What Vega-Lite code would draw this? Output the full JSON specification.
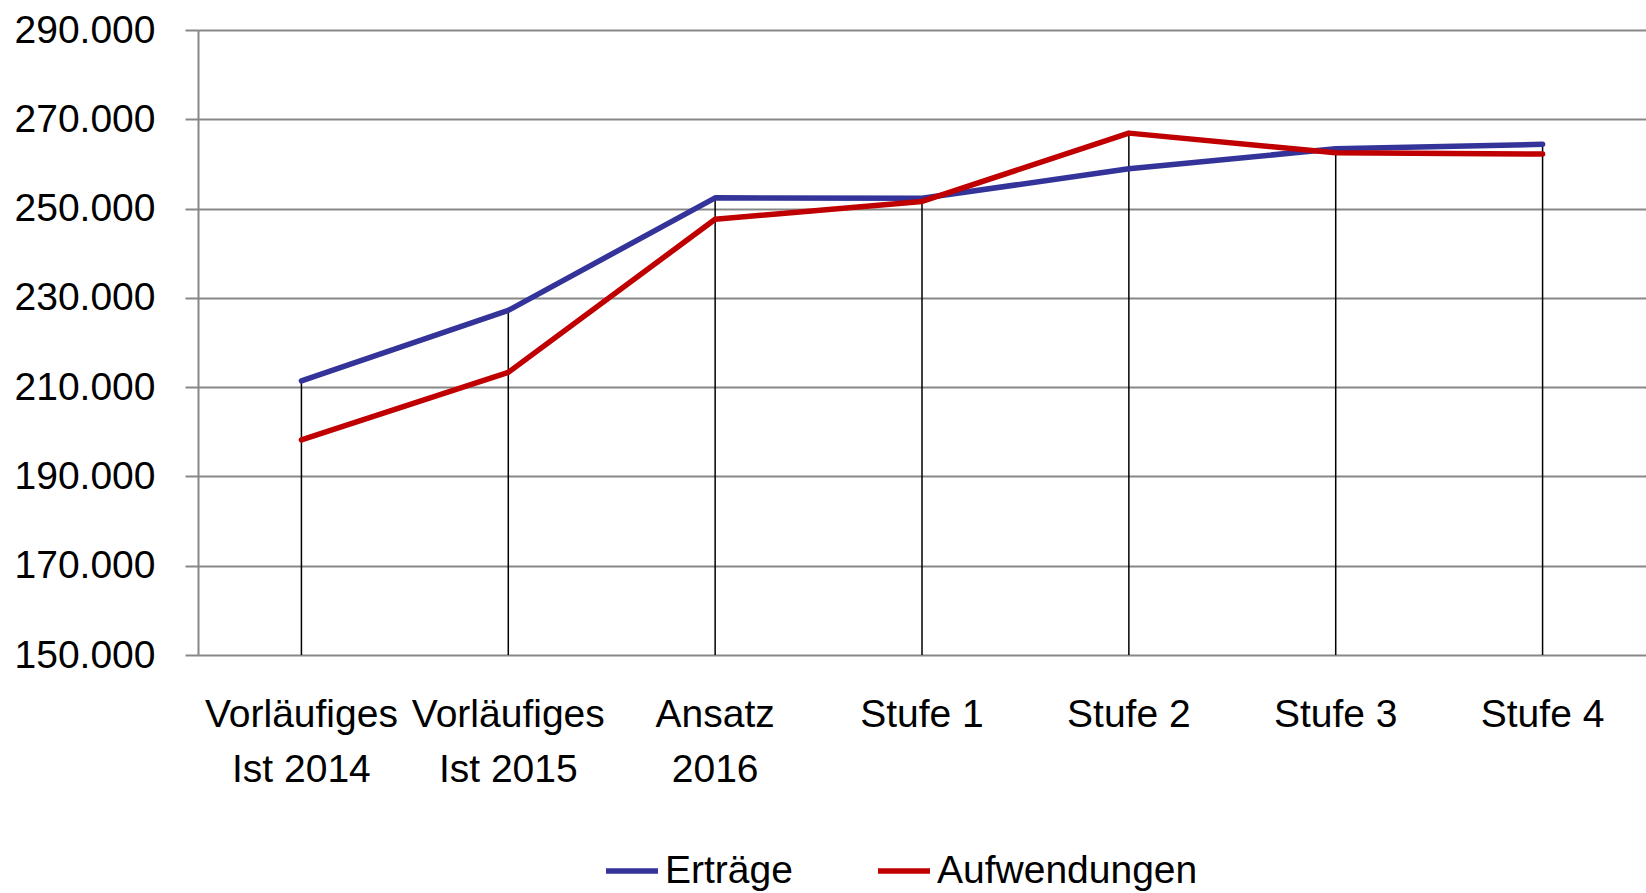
{
  "$schema": "https://vega.github.io/schema/vega-lite/v6.json",
  "autosize": {"type": "none"},
  "padding": {"left": 198, "top": 30, "right": 0, "bottom": 238},
  "width": 1448,
  "height": 625,
  "background": "white",
  "config": {
    "view": {"stroke": null},
    "font": "Liberation Sans",
    "locale": {"number": {"decimal": ",", "thousands": ".", "grouping": [3], "currency": ["", " €"]}}
  },
  "data": {
    "values": [
      {"kategorie": "Vorläufiges Ist 2014", "reihe": "Erträge", "wert": 211400},
      {"kategorie": "Vorläufiges Ist 2015", "reihe": "Erträge", "wert": 227200},
      {"kategorie": "Ansatz 2016", "reihe": "Erträge", "wert": 252400},
      {"kategorie": "Stufe 1", "reihe": "Erträge", "wert": 252300},
      {"kategorie": "Stufe 2", "reihe": "Erträge", "wert": 258900},
      {"kategorie": "Stufe 3", "reihe": "Erträge", "wert": 263400},
      {"kategorie": "Stufe 4", "reihe": "Erträge", "wert": 264400},
      {"kategorie": "Vorläufiges Ist 2014", "reihe": "Aufwendungen", "wert": 198200},
      {"kategorie": "Vorläufiges Ist 2015", "reihe": "Aufwendungen", "wert": 213300},
      {"kategorie": "Ansatz 2016", "reihe": "Aufwendungen", "wert": 247600},
      {"kategorie": "Stufe 1", "reihe": "Aufwendungen", "wert": 251600},
      {"kategorie": "Stufe 2", "reihe": "Aufwendungen", "wert": 266900},
      {"kategorie": "Stufe 3", "reihe": "Aufwendungen", "wert": 262500},
      {"kategorie": "Stufe 4", "reihe": "Aufwendungen", "wert": 262200}
    ]
  },
  "layer": [
    {
      "transform": [{"aggregate": [{"op": "max", "field": "wert", "as": "max_wert"}], "groupby": ["kategorie"]}],
      "mark": {"type": "rule", "color": "black", "strokeWidth": 1.5},
      "encoding": {
        "x": {"field": "kategorie", "type": "nominal", "sort": null,
              "scale": {"domain": ["Vorläufiges Ist 2014", "Vorläufiges Ist 2015", "Ansatz 2016", "Stufe 1", "Stufe 2", "Stufe 3", "Stufe 4"], "paddingInner": 0, "paddingOuter": 0}},
        "y": {"field": "max_wert", "type": "quantitative", "scale": {"domain": [150000, 290000]}},
        "y2": {"datum": 150000}
      }
    },
    {
      "mark": {"type": "line", "strokeWidth": 5.5, "strokeCap": "round", "strokeJoin": "round"},
      "encoding": {
        "x": {"field": "kategorie", "type": "nominal", "sort": null,
              "scale": {"domain": ["Vorläufiges Ist 2014", "Vorläufiges Ist 2015", "Ansatz 2016", "Stufe 1", "Stufe 2", "Stufe 3", "Stufe 4"], "paddingInner": 0, "paddingOuter": 0},
              "axis": {"title": null, "domain": false, "ticks": false, "labelAngle": 0, "labelAlign": "center", "labelLimit": 0,
                       "labelFontSize": 39, "labelColor": "black",
                       "labelPadding": 40, "labelLineHeight": 55, "labelBaseline": "top",
                       "labelExpr": "indexof(datum.label, 'Stufe') >= 0 ? datum.label : split(replace(datum.label, ' ', '|'), '|')"}},
        "y": {"field": "wert", "type": "quantitative",
              "scale": {"domain": [150000, 290000], "zero": false},
              "axis": {"title": null, "values": [150000, 170000, 190000, 210000, 230000, 250000, 270000, 290000],
                       "format": ",d", "labelFontSize": 39, "labelColor": "black", "labelPadding": 30,
                       "tickSize": 13, "tickColor": "#878787", "tickWidth": 2,
                       "domainColor": "#878787", "domainWidth": 2,
                       "grid": true, "gridColor": "#878787", "gridWidth": 2}},
        "color": {"field": "reihe", "type": "nominal",
                  "scale": {"domain": ["Erträge", "Aufwendungen"], "range": ["#333399", "#C00000"]},
                  "legend": {"title": null, "orient": "none", "direction": "horizontal", "legendX": 405, "legendY": 812,
                             "symbolType": "stroke", "symbolSize": 2704, "symbolStrokeWidth": 5.5,
                             "labelFontSize": 39, "labelLimit": 0, "labelColor": "black", "labelOffset": 4, "columnPadding": 74}}
      }
    }
  ]
}
